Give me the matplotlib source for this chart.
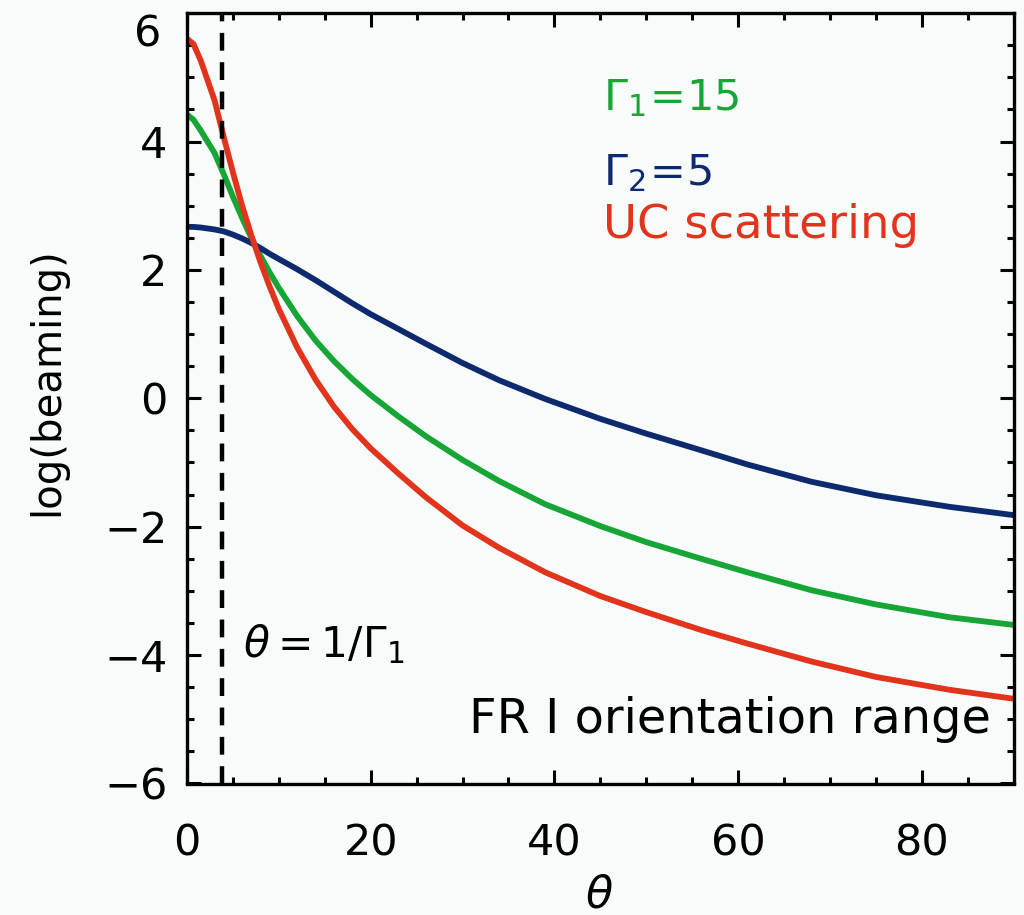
import matplotlib
matplotlib.use('Agg')
import matplotlib.pyplot as plt
from matplotlib.ticker import MultipleLocator

# values (theta in degrees, log of beaming factor)
theta = [0, 0.7, 1.5, 3, 4, 5, 6, 7, 8, 9, 10, 12, 14, 16, 18, 20, 23, 26, 30, 34, 39,
         45, 50, 56, 61, 68, 75, 83, 90]
gamma1 = [4.42, 4.34, 4.17, 3.82, 3.49, 3.14, 2.81, 2.50, 2.22, 1.96, 1.72, 1.28, 0.90, 0.58,
          0.30, 0.05, -0.28, -0.59, -0.96, -1.29, -1.65, -1.99, -2.24, -2.50, -2.71, -2.99,
          -3.21, -3.41, -3.53]
gamma2 = [2.67, 2.67, 2.66, 2.63, 2.60, 2.55, 2.49, 2.42, 2.34, 2.25, 2.17, 2.01, 1.84, 1.66,
          1.48, 1.31, 1.08, 0.85, 0.55, 0.28, -0.01, -0.32, -0.55, -0.81, -1.03, -1.30, -1.51,
          -1.69, -1.82]
uc = [5.60, 5.52, 5.26, 4.64, 4.07, 3.52, 3.00, 2.54, 2.12, 1.74, 1.39, 0.79, 0.29, -0.13,
      -0.48, -0.78, -1.17, -1.54, -1.98, -2.33, -2.71, -3.08, -3.33, -3.61, -3.82, -4.10,
      -4.34, -4.54, -4.68]
theta_crit = 3.82  # 1/Gamma_1 in degrees

green = '#17a536'
navy = '#0d2a6e'
red = '#e2341d'
bg = '#f7fbf9'

plt.rcParams['mathtext.fontset'] = 'dejavusans'
fig = plt.figure(figsize=(10.24, 9.15), dpi=100, facecolor=bg)
ax = fig.add_axes([187/1024, 1-783.5/915, 826.6/1024, 770.4/915], facecolor=bg)

ax.plot(theta, gamma1, color=green, lw=4.2, solid_joinstyle='round')
ax.plot(theta, gamma2, color=navy, lw=4.2, solid_joinstyle='round')
ax.plot(theta, uc, color=red, lw=4.2, solid_joinstyle='round')
ax.axvline(theta_crit, color='black', lw=3.2, dashes=(4, 2.6))

ax.set_xlim(0, 90)
ax.set_ylim(-6, 6)
ax.xaxis.set_major_locator(MultipleLocator(20))
ax.xaxis.set_minor_locator(MultipleLocator(5))
ax.yaxis.set_major_locator(MultipleLocator(2))
ax.yaxis.set_minor_locator(MultipleLocator(0.5))
ax.tick_params(which='both', direction='in', top=True, right=True, width=2.2, labelsize=31)
ax.tick_params(which='major', length=10)
ax.tick_params(which='minor', length=5)
ax.tick_params(axis='x', pad=28)
ax.tick_params(axis='y', pad=14)
for s in ax.spines.values():
    s.set_linewidth(2.4)

# IDL style: top y label sits below the axis top
ylabels = ['\u22126', '\u22124', '\u22122', '0', '2', '4', '']
ax.set_yticks([-6, -4, -2, 0, 2, 4, 6])
ax.set_yticklabels(ylabels)
ax.text(-0.031, 1.0, '6', transform=ax.transAxes, ha='right', va='top', fontsize=31)

fig.text(0.046, 0.5825, 'log(beaming)', rotation=90, ha='center', va='center', fontsize=29)
fig.text(0.585, 0.022, r'$\theta$', ha='center', va='center', fontsize=32)

ax.text(0.503, 0.874, r'$\Gamma_1\!=\!15$', transform=ax.transAxes, color=green, fontsize=31)
ax.text(0.503, 0.777, r'$\Gamma_2\!=\!5$', transform=ax.transAxes, color=navy, fontsize=31)
ax.text(0.503, 0.708, 'UC scattering', transform=ax.transAxes, color=red, fontsize=33.5)
ax.text(0.068, 0.164, r'$\theta = 1/\Gamma_1$', transform=ax.transAxes, fontsize=30.5)
ax.text(0.972, 0.0656, 'FR I orientation range', transform=ax.transAxes, ha='right', fontsize=34.5)

fig.savefig('out.png', dpi=100, facecolor=bg)
